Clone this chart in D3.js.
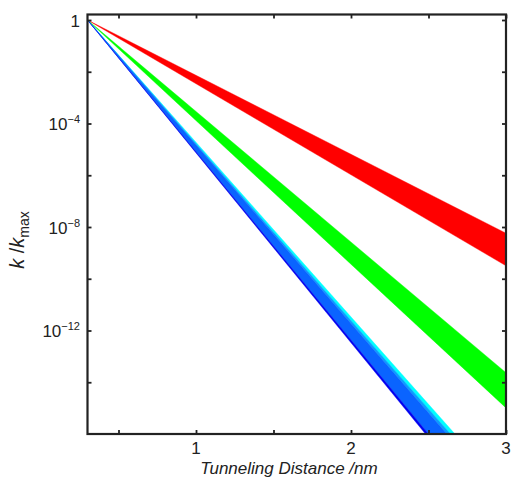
<!DOCTYPE html>
<html><head><meta charset="utf-8">
<script src="https://cdn.jsdelivr.net/npm/d3@7"></script>
<style>
html,body{margin:0;padding:0;background:#fff;}
svg{display:block;}
text{font-family:Arial,"Liberation Sans",Helvetica,sans-serif;fill:#222;}
</style></head>
<body>
<svg id="chart" width="511" height="479"></svg>
<script>
// ---- data ----
const distanceNm = [0.3, 3.0];                 // x at band start / end
const redUpper   = [1, 5.75e-9];
const redLower   = [1, 3.16e-10];
const greenUpper = [1, 2.34e-14];
const greenLower = [1, 1.02e-15];
const cyanUpper  = [1, 6.0e-19];
const cyanLower  = [1, 3.55e-19];
const lightBlueUpper = [1, 3.55e-19];
const lightBlueLower = [1, 2.34e-19];
const midBlueUpper   = [1, 2.34e-19];
const midBlueLower   = [1, 2.29e-20];
const darkBlueUpper  = [1, 2.29e-20];
const darkBlueLower  = [1, 1.55e-20];

const xMajorTicks = [1, 2, 3];
const xMinorTicks = [0.5, 1.5, 2.5];
const yMajorTicks = [1, 1e-4, 1e-8, 1e-12];
const yMajorLabels = ["1", "−4", "−8", "−12"];
const yMinorTicks = [1e-2, 1e-6, 1e-10, 1e-14];

const bandDefs = [
  {upper: redUpper, lower: redLower, color: "#ff0000"},
  {upper: greenUpper, lower: greenLower, color: "#00ff00"},
  {upper: cyanUpper, lower: cyanLower, color: "#00ffff"},
  {upper: lightBlueUpper, lower: lightBlueLower, color: "#0aa0ff"},
  {upper: midBlueUpper, lower: midBlueLower, color: "#0a64ff"},
  {upper: darkBlueUpper, lower: darkBlueLower, color: "#0000f0"}
];

// ---- layout ----
const L = 87.5, R = 506, T = 14.5, B = 434;
const svg = d3.select("#chart");
const x = d3.scaleLinear().domain([0.3, 3]).range([L, R]);
const y = d3.scaleLog().domain([1e-16, Math.pow(10, 0.2126)]).range([B, T]);

svg.append("defs").append("clipPath").attr("id", "clip")
  .append("rect").attr("x", L).attr("y", T).attr("width", R - L).attr("height", B - T);

const area = d3.area()
  .x(d => x(d.x)).y0(d => y(d.lo)).y1(d => y(d.hi));

const plot = svg.append("g").attr("clip-path", "url(#clip)");
bandDefs.forEach(b => {
  const pts = distanceNm.map((xv, i) => ({x: xv, lo: b.lower[i], hi: b.upper[i]}));
  plot.append("path").datum(pts).attr("d", area)
    .attr("fill", b.color).attr("stroke", b.color).attr("stroke-width", 0.4);
});

// ---- axes ----
const tickLen = 4;
function styleAxis(g) {
  g.select(".domain").remove();
  g.selectAll(".tick line").attr("stroke", "#222").attr("stroke-width", 1.8);
  g.selectAll(".tick text").remove();
}
const allX = xMinorTicks.concat(xMajorTicks);
const allY = yMinorTicks.concat(yMajorTicks);
svg.append("g").attr("transform", `translate(0,${B})`)
  .call(d3.axisBottom(x).tickValues(allX).tickSize(-tickLen)).call(styleAxis);
svg.append("g").attr("transform", `translate(0,${T})`)
  .call(d3.axisTop(x).tickValues(allX).tickSize(-tickLen)).call(styleAxis);
svg.append("g").attr("transform", `translate(${L},0)`)
  .call(d3.axisLeft(y).tickValues(allY).tickSize(-tickLen)).call(styleAxis);
svg.append("g").attr("transform", `translate(${R},0)`)
  .call(d3.axisRight(y).tickValues(allY).tickSize(-tickLen)).call(styleAxis);

svg.append("rect").attr("x", L).attr("y", T).attr("width", R - L).attr("height", B - T)
  .attr("fill", "none").attr("stroke", "#222").attr("stroke-width", 2.2);

// x tick labels
svg.append("g").selectAll("text").data(xMajorTicks).join("text")
  .attr("x", d => x(d)).attr("y", 454)
  .attr("text-anchor", "middle").attr("font-size", 17)
  .text(d => d);

// y tick labels
const yl = svg.append("g").selectAll("text").data(yMajorTicks).join("text")
  .attr("x", 80).attr("y", d => y(d) + 6.5)
  .attr("text-anchor", "end").attr("font-size", 17);
yl.each(function(d, i) {
  const t = d3.select(this);
  if (i === 0) { t.text(yMajorLabels[i]); return; }
  t.append("tspan").text("10");
  t.append("tspan").attr("font-size", 11).attr("dy", -7).text(yMajorLabels[i]);
});

// axis titles
svg.append("text").attr("x", 289).attr("y", 474)
  .attr("text-anchor", "middle").attr("font-size", 17).attr("font-style", "italic")
  .text("Tunneling Distance /nm");

const yt = svg.append("text")
  .attr("transform", "translate(24,240) rotate(-90)")
  .attr("text-anchor", "middle").attr("font-size", 20);
yt.append("tspan").attr("font-style", "italic").text("k");
yt.append("tspan").text(" /");
yt.append("tspan").attr("font-style", "italic").text("k");
yt.append("tspan").attr("font-size", 14).attr("dy", 5).text("max");
</script>
</body></html>
